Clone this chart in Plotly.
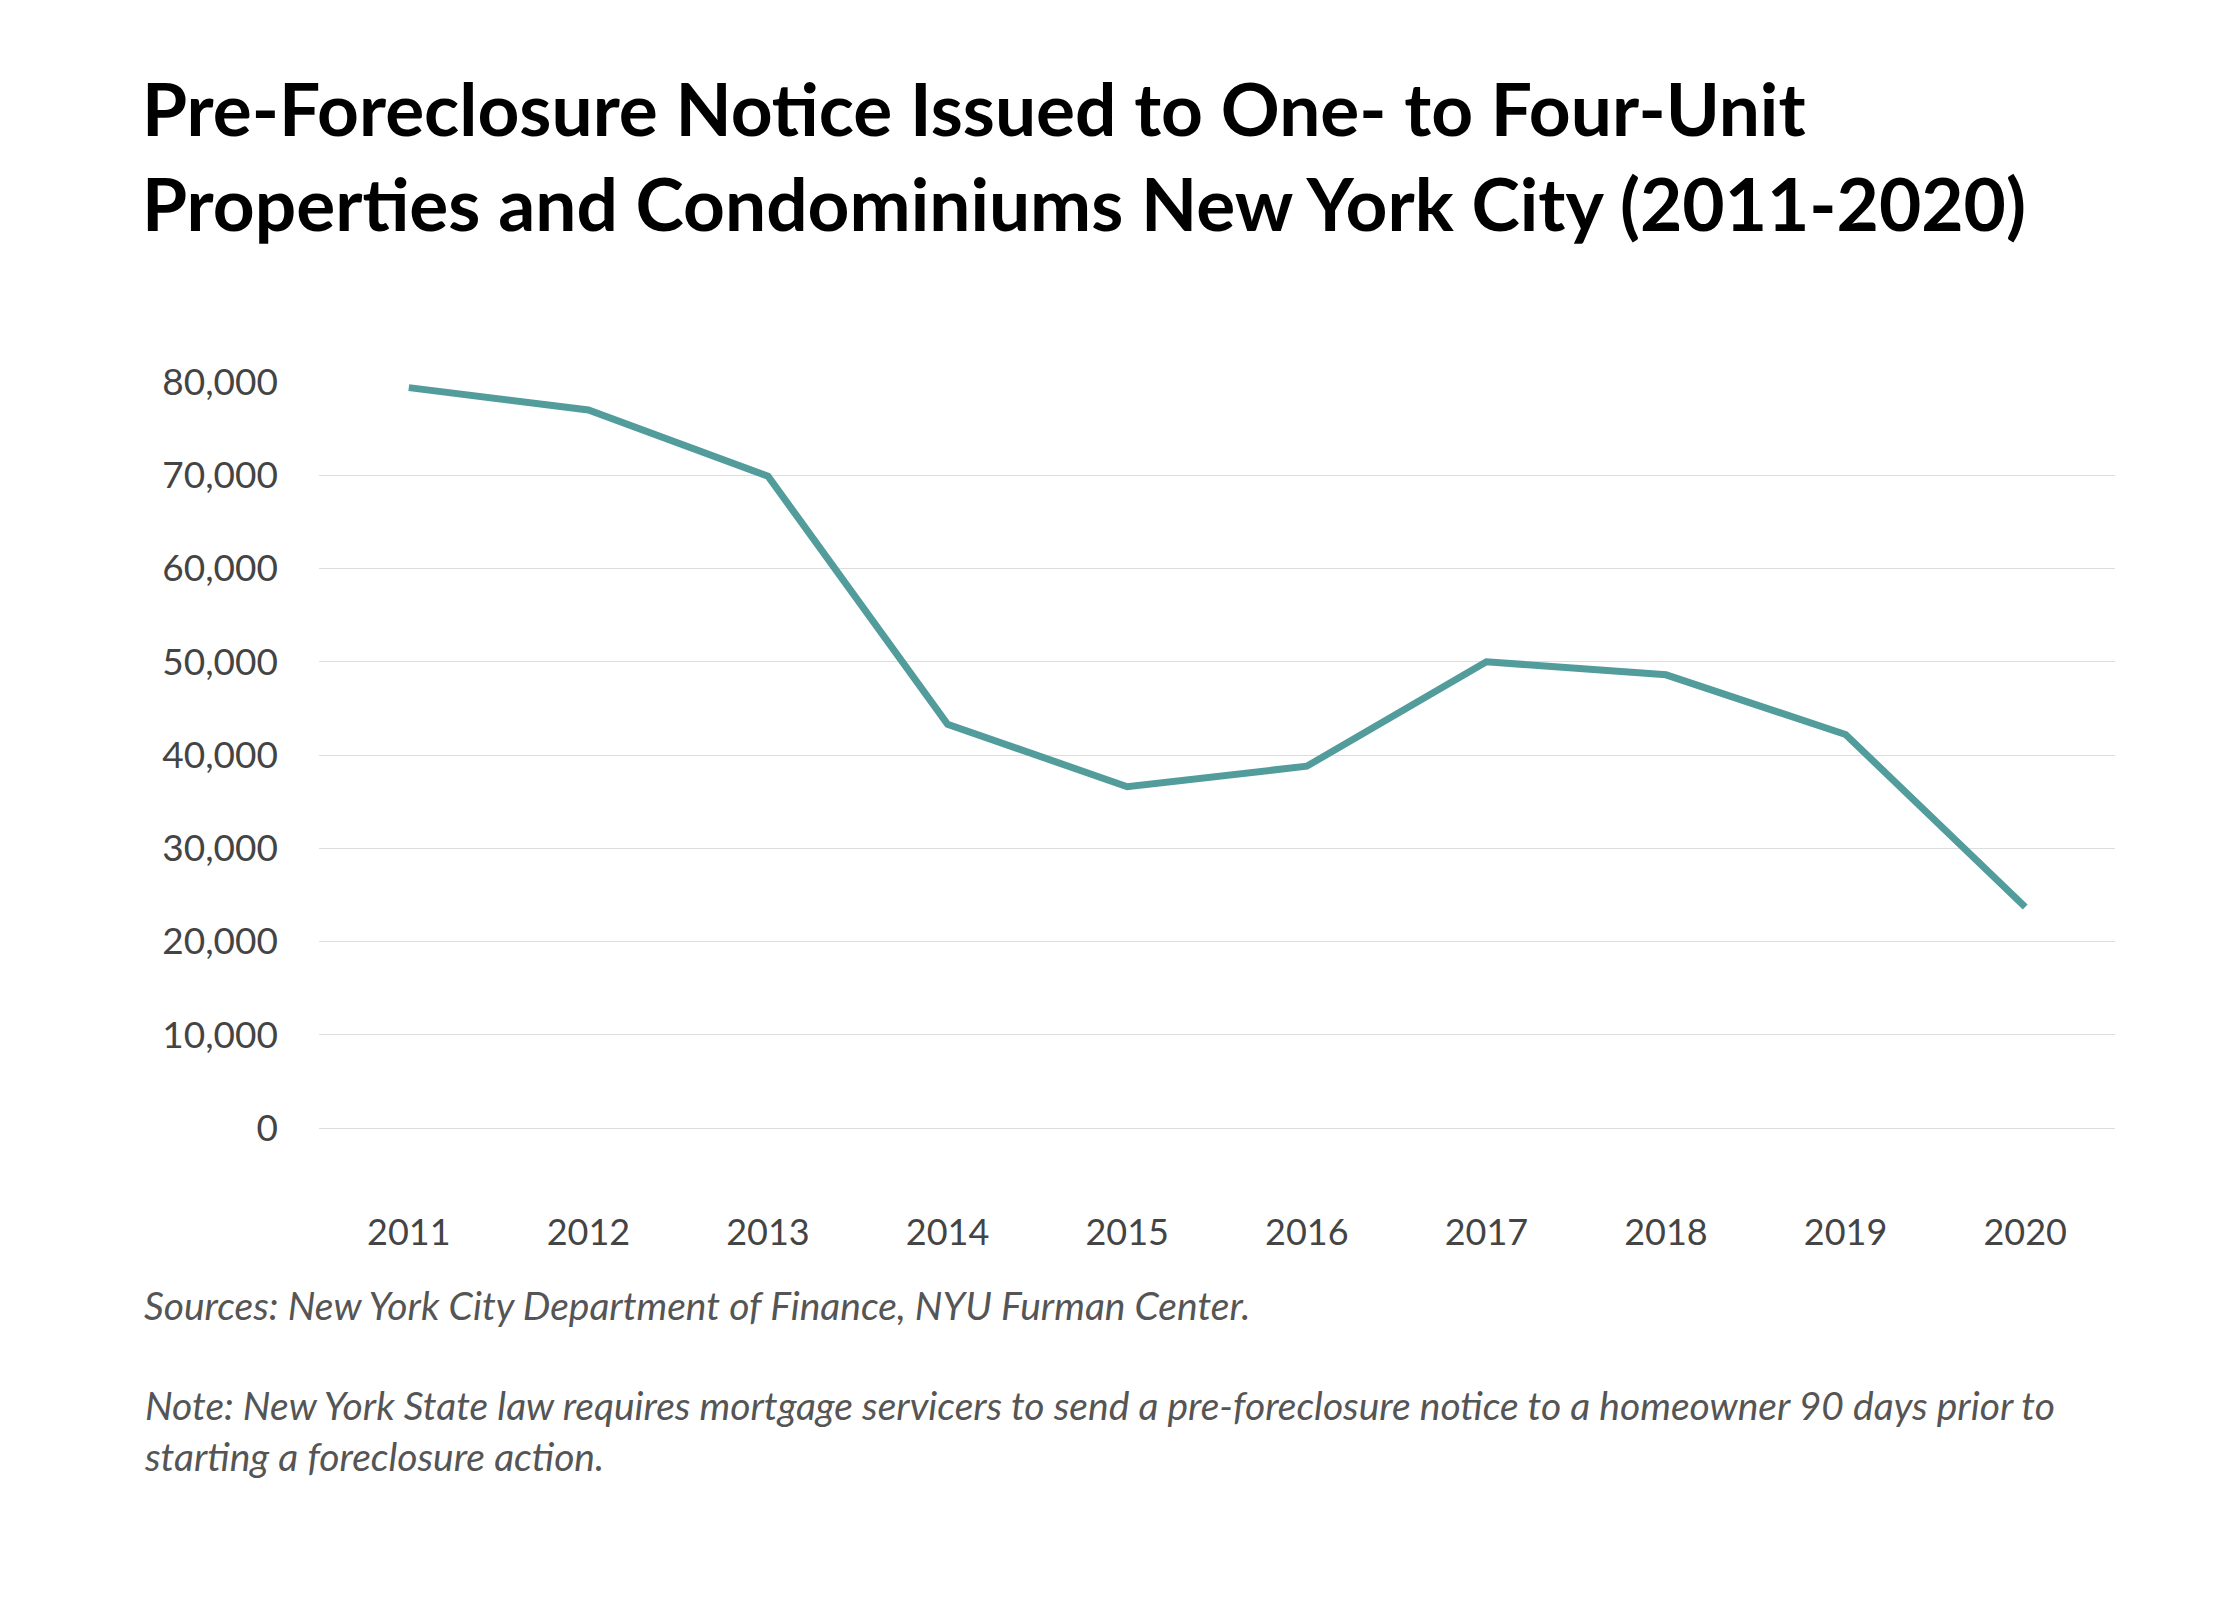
import plotly.graph_objects as go

years = ["2011","2012","2013","2014","2015","2016","2017","2018","2019","2020"]
notices = [79400, 77000, 69900, 43300, 36600, 38800, 50000, 48600, 42200, 23700]
y_ticks = [0,10000,20000,30000,40000,50000,60000,70000,80000]
y_labels = ["0","10,000","20,000","30,000","40,000","50,000","60,000","70,000","80,000"]

fig = go.Figure(go.Scatter(x=years, y=notices, mode="lines",
                           line=dict(color="#529c9c", width=7)))
fig.update_layout(
    width=2240, height=1600, paper_bgcolor="white", plot_bgcolor="white",
    margin=dict(l=311, r=133, t=374, b=480), showlegend=False,
    font=dict(family="Lato", color="#444"),
    title=dict(text="<b>Pre-Foreclosure Notice Issued to One- to Four-Unit<br>Properties and Condominiums New York City (2011-2020)</b>",
               x=134/2240, xanchor="left", y=1-128/1600, yanchor="top",
               font=dict(family="Lato", size=73, color="#000")),
    annotations=[
        dict(text="<i>Sources: New York City Department of Finance, NYU Furman Center.</i>",
             xref="paper", yref="paper", x=-177/1796, y=-(1297-1120)/746, xanchor="left", yanchor="middle",
             showarrow=False, font=dict(size=39, color="#555")),
        dict(text="<i>Note: New York State law requires mortgage servicers to send a pre-foreclosure notice to a homeowner 90 days prior to<br>starting a foreclosure action.</i>",
             xref="paper", yref="paper", x=-177/1796, y=-(1372-1120)/746, xanchor="left", yanchor="top",
             align="left", showarrow=False, font=dict(size=39, color="#555")),
    ],
)
fig.update_xaxes(type="category", range=[-0.5, 9.5], showgrid=False, showline=False, ticks="",
                 tickfont=dict(size=36, color="#444"), ticklabelstandoff=80)
fig.update_yaxes(range=[0, 80000], tickvals=y_ticks, ticktext=y_labels,
                 showgrid=True, gridcolor="#dddddd", gridwidth=1, zeroline=True,
                 zerolinecolor="#dddddd", zerolinewidth=1,
                 tickfont=dict(size=37, color="#444"), ticklabelstandoff=40)
fig.write_html("out.html")
